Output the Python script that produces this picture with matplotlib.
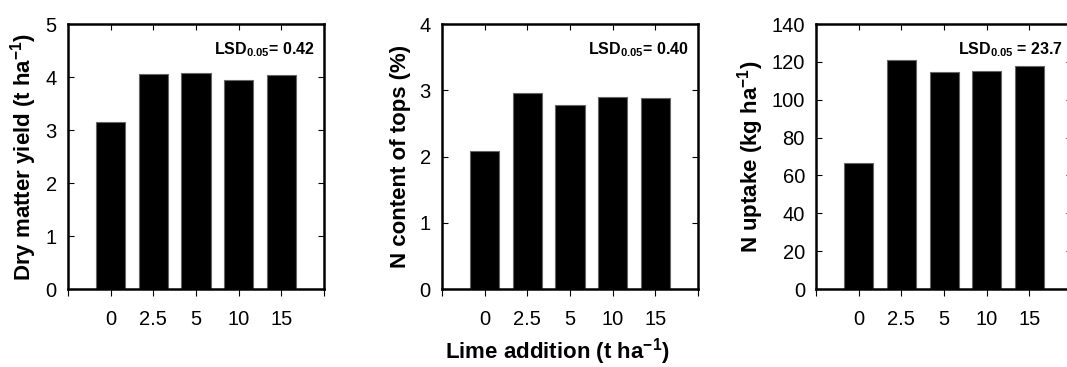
import numpy as np
import matplotlib.pyplot as plt
from matplotlib.lines import TICKDOWN

plt.rcParams['font.family'] = ['Liberation Sans', 'DejaVu Sans']
plt.rcParams['mathtext.fontset'] = 'custom'
plt.rcParams['mathtext.rm'] = 'Liberation Sans'
plt.rcParams['mathtext.bf'] = 'Liberation Sans:bold'
plt.rcParams['mathtext.it'] = 'Liberation Sans:italic'

# Lime addition treatments (t/ha)
lime = ['0', '2.5', '5', '10', '15']

dry_matter = [3.16, 4.06, 4.08, 3.94, 4.03]
n_content = [2.085, 2.965, 2.78, 2.90, 2.885]
n_uptake = [66.8, 120.8, 114.7, 115.2, 117.7]

ylabels = [r'Dry matter yield (t ha$^{\mathbf{-1}}$)',
           'N content of tops (%)',
           r'N uptake (kg ha$^{\mathbf{-1}}$)']
lsd_text = [r'LSD$_{\mathbf{0.05}}$= 0.42',
            r'LSD$_{\mathbf{0.05}}$= 0.40',
            r'LSD$_{\mathbf{0.05}}$ = 23.7']
ylims = [(0, 5, 1), (0, 4, 1), (0, 140, 20)]
series = [dry_matter, n_content, n_uptake]

fig = plt.figure(figsize=(10.67, 3.67), dpi=100)
lefts = [0.0637, 0.4142, 0.7648]
ylab_x = [-0.172, -0.160, -0.254]

for i in range(3):
    ax = fig.add_axes([lefts[i], 0.2125, 0.240, 0.722])
    x = np.arange(len(lime))
    ax.bar(x, series[i], width=0.68, color='black', edgecolor='#666666',
           linewidth=0.8, zorder=2)
    lo, hi, step = ylims[i]
    ax.set_ylim(lo, hi)
    ax.set_yticks(np.arange(lo, hi + step / 2, step))
    ax.set_xlim(-1, 5)
    ax.set_xticks(np.arange(-1, 6))
    ax.set_xticklabels([''] + lime + [''])
    ax.tick_params(axis='y', direction='in', length=4, width=0.8,
                   right=True, labelsize=14.5, pad=8)
    ax.tick_params(axis='x', direction='out', length=5, width=0.8,
                   top=True, labelsize=14.5, pad=10)
    for s in ['left', 'bottom', 'right', 'top']:
        ax.spines[s].set_linewidth(1.8)
    ax.text(ylab_x[i], 0.5, ylabels[i], transform=ax.transAxes, rotation=90,
            ha='center', va='center', fontsize=16, fontweight='bold')
    ax.text(0.965, 0.905, lsd_text[i], transform=ax.transAxes, ha='right',
            va='center', fontsize=11.5, fontweight='bold')
    # top ticks point into the axes
    for t in ax.xaxis.get_major_ticks():
        t.tick2line.set_marker(TICKDOWN)
        t.tick2line.set_markersize(4)

fig.text(0.522, 0.041, r'Lime addition (t ha$^{\mathbf{-1}}$)', ha='center',
         va='center', fontsize=16, fontweight='bold')

fig.savefig('out.png', dpi=100)
